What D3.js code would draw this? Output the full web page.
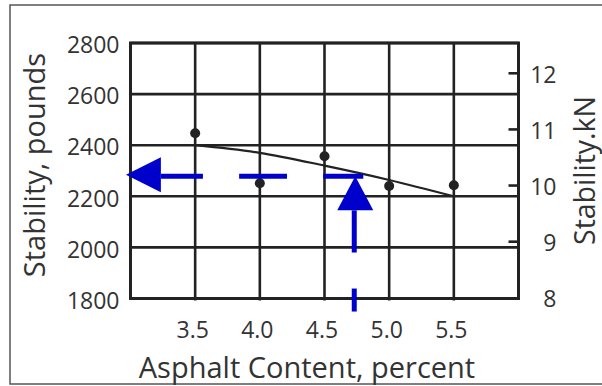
<!DOCTYPE html>
<html>
<head>
<meta charset="utf-8">
<script src="https://cdn.jsdelivr.net/npm/d3@7"></script>
<style>
  html, body { margin: 0; padding: 0; background: #fff; }
  svg { display: block; }
</style>
</head>
<body>
<svg id="chart" width="602" height="386"></svg>
<script>
// ---------- data ----------
const acTicks = [3.5, 4.0, 4.5, 5.0, 5.5];          // x tick labels (percent)
const lbTicks = [1800, 2000, 2200, 2400, 2600, 2800]; // left axis (pounds)
const knTicks = [8, 9, 10, 11, 12];                   // right axis (kN)
const pointAC = [3.5, 4.0, 4.5, 5.0, 5.5];            // measured points
const pointLb = [2447, 2251, 2357, 2240, 2243];
const curveAC = [3.5, 4.0, 4.5, 5.0, 5.5];            // fitted curve
const curveLb = [2400, 2370, 2320, 2264, 2200];
const targetLb = 2278;                                 // read-off stability
const targetAC = 4.73;                                 // design asphalt content
const hArrowTipAC = 2.965, hArrowBaseAC = 3.235;       // horizontal arrow head (x, percent)
const hDashes = [[3.235, 3.56], [3.84, 4.21], [4.49, 4.80]];
const vArrowBaseLb = 2145;                             // vertical arrow head base
const vDashes = [[2145, 1980], [1839, 1749]];

// ---------- layout ----------
const svg = d3.select("#chart");
const L = 130.5, R = 518.5, T = 43, B = 298.5;
const x = d3.scaleLinear().domain([3, 6]).range([L, R]);
const y = d3.scaleLinear().domain([1800, 2800]).range([B, T]);
const yKn = d3.scaleLinear().domain([8, 12]).range([297.8, 73.3]);
const ink = "#222", textCol = "#333", blue = "#0000cc";
const font = "'Open Sans', 'Noto Sans', sans-serif";

// outer frame
svg.append("rect").attr("x", 10).attr("y", 5).attr("width", 600).attr("height", 379)
  .attr("fill", "none").attr("stroke", "#555").attr("stroke-width", 1.5);

// grid
const g = svg.append("g");
g.selectAll("line.h").data(lbTicks).join("line")
  .attr("x1", L).attr("x2", R).attr("y1", d => y(d)).attr("y2", d => y(d))
  .attr("stroke", ink).attr("stroke-width", 2.6);
g.selectAll("line.v").data(acTicks).join("line")
  .attr("y1", T).attr("y2", B + 2).attr("x1", d => x(d)).attr("x2", d => x(d))
  .attr("stroke", ink).attr("stroke-width", 2.6);
g.append("rect").attr("x", L).attr("y", T).attr("width", R - L).attr("height", B - T)
  .attr("fill", "none").attr("stroke", ink).attr("stroke-width", 3);

// right-side inner ticks
g.selectAll("line.kt").data(knTicks.filter(d => d > 8)).join("line")
  .attr("x1", R - 10).attr("x2", R).attr("y1", d => yKn(d)).attr("y2", d => yKn(d))
  .attr("stroke", ink).attr("stroke-width", 2.6);

// axes labels via d3 axes
function styleAxis(sel) {
  sel.select(".domain").remove();
  sel.selectAll(".tick line").remove();
  sel.selectAll("text").attr("fill", textCol).style("font-family", font).style("font-size", "23px");
}
svg.append("g").attr("transform", `translate(${L},0)`)
  .call(d3.axisLeft(y).tickValues(lbTicks).tickSize(0).tickPadding(11).tickFormat(d3.format("d")))
  .call(styleAxis)
  .selectAll("text").attr("dy", "0.38em").attr("y", 1);

svg.append("g").attr("transform", `translate(0,${B})`)
  .call(d3.axisBottom(x).tickValues(acTicks).tickSize(0).tickFormat(d3.format(".1f")))
  .call(styleAxis)
  .selectAll("text").attr("dy", 0).attr("y", 39.5).attr("dx", -3);

svg.append("g").attr("transform", `translate(${R},0)`)
  .call(d3.axisRight(yKn).tickValues(knTicks).tickSize(0).tickFormat(d3.format("d")))
  .call(styleAxis)
  .selectAll("text").attr("text-anchor", "end").attr("x", 38).attr("dy", "0.38em").attr("y", 0);

// axis titles
svg.append("text").attr("transform", "translate(45,165) rotate(-90)")
  .attr("text-anchor", "middle").attr("fill", textCol)
  .style("font-family", font).style("font-size", "29px").text("Stability, pounds");
svg.append("text").attr("transform", "translate(594.5,170.5) rotate(-90)")
  .attr("text-anchor", "middle").attr("fill", textCol)
  .style("font-family", font).style("font-size", "28.5px").text("Stability.kN");
svg.append("text").attr("x", 307).attr("y", 378)
  .attr("text-anchor", "middle").attr("fill", textCol)
  .style("font-family", font).style("font-size", "29px").text("Asphalt Content, percent");

// fitted curve
const curveData = curveAC.map((a, i) => [a, curveLb[i]]);
svg.append("path").datum(curveData)
  .attr("d", d3.line().x(d => x(d[0])).y(d => y(d[1])).curve(d3.curveMonotoneX))
  .attr("fill", "none").attr("stroke", ink).attr("stroke-width", 2.2);

// data points
svg.selectAll("circle.pt").data(pointAC.map((a, i) => [a, pointLb[i]])).join("circle")
  .attr("cx", d => x(d[0])).attr("cy", d => y(d[1])).attr("r", 5).attr("fill", ink);

// blue horizontal arrow
const yT = y(targetLb);
svg.selectAll("line.hd").data(hDashes).join("line")
  .attr("x1", d => x(d[0])).attr("x2", d => x(d[1])).attr("y1", yT).attr("y2", yT)
  .attr("stroke", blue).attr("stroke-width", 5);
svg.append("path")
  .attr("d", `M${x(hArrowTipAC)},${yT - 1.5} L${x(hArrowBaseAC)},${yT - 19} L${x(hArrowBaseAC)},${yT + 16} Z`)
  .attr("fill", blue);

// blue vertical arrow
const xT = x(targetAC);
svg.selectAll("line.vd").data(vDashes).join("line")
  .attr("x1", xT).attr("x2", xT).attr("y1", d => y(d[0])).attr("y2", d => y(d[1]))
  .attr("stroke", blue).attr("stroke-width", 5);
svg.append("path")
  .attr("d", `M${xT + 1},${yT} L${xT - 17},${y(vArrowBaseLb)} L${xT + 19},${y(vArrowBaseLb)} Z`)
  .attr("fill", blue);
</script>
</body>
</html>
